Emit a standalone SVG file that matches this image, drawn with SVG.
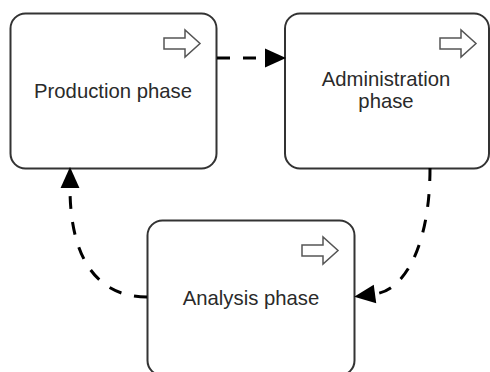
<svg xmlns="http://www.w3.org/2000/svg" width="490" height="372" viewBox="0 0 490 372">
<style>
.box{fill:#ffffff;stroke:#333333;stroke-width:2}
.lbl{font-family:"Liberation Sans",Arial,sans-serif;font-size:20.3px;fill:#2a2a2a;text-anchor:middle}
.icon{fill:#ffffff;stroke:#555555;stroke-width:1.5;stroke-linejoin:miter}
.conn{fill:none;stroke:#000000;stroke-width:3;stroke-dasharray:13 13}
</style>
<defs>
<marker id="ah" markerUnits="userSpaceOnUse" markerWidth="21" markerHeight="19" refX="0" refY="9" orient="auto" viewBox="0 0 20 18" overflow="visible">
<path d="M0,0 L20,9 L0,18 Z" fill="#000000"/>
</marker>
<path id="blk" d="M0,8 L21,8 L21,0 L36,13.5 L21,27 L21,19 L0,19 Z"/>
</defs>
<g id="node-production">
<rect class="box" x="10.5" y="13.5" width="206" height="155" rx="15" ry="15"/>
<use href="#blk" class="icon" x="164" y="30"/>
<text class="lbl" x="113" y="98">Production phase</text>
</g>
<g id="node-administration">
<rect class="box" x="285" y="13.5" width="204" height="155" rx="15" ry="15"/>
<use href="#blk" class="icon" x="440" y="30"/>
<text class="lbl" x="386" y="86">Administration</text>
<text class="lbl" x="386" y="108">phase</text>
</g>
<g id="node-analysis">
<rect class="box" x="147.5" y="220.5" width="207" height="155" rx="15" ry="15"/>
<use href="#blk" class="icon" x="302" y="237"/>
<text class="lbl" x="251" y="305">Analysis phase</text>
</g>
<g id="connectors">
<path class="conn" d="M217,58 L265,58" marker-end="url(#ah)"/>
<path class="conn" d="M430,168 C430,245 405,290 375,294" marker-end="url(#ah)"/>
<path class="conn" d="M147,297 C95,297 70,255 70,188" marker-end="url(#ah)"/>
</g>
</svg>
